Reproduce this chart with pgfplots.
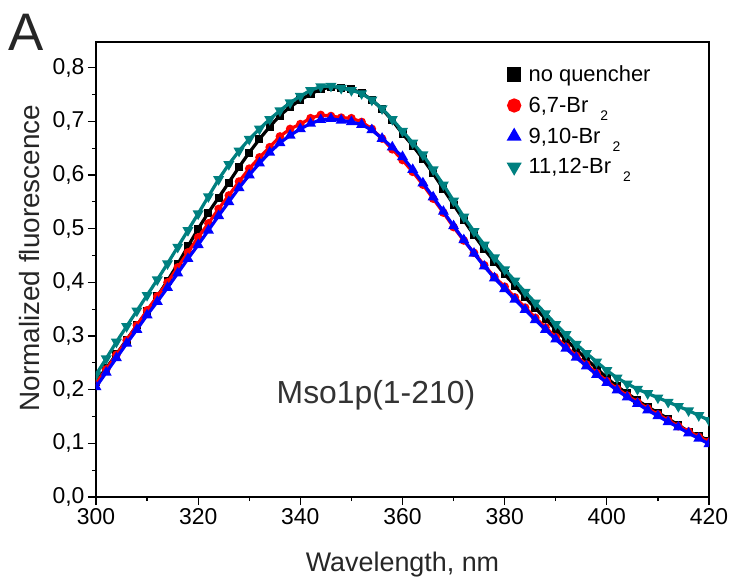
\documentclass[border=0pt]{standalone}
\usepackage{fontspec}
\setmainfont{Liberation Sans}
\usepackage{pgfplots}
\pgfplotsset{compat=1.18}
\usepackage{pgfplotstable}

% wavelength (nm), no quencher, 6,7-Br2, 9,10-Br2, 11,12-Br2
\pgfplotstableread{
wl  nq     b67    b910   b1112
300 0.215 0.212 0.205 0.228
302 0.240 0.238 0.232 0.258
304 0.266 0.265 0.259 0.289
306 0.293 0.292 0.286 0.318
308 0.320 0.320 0.312 0.347
310 0.346 0.348 0.339 0.376
312 0.374 0.374 0.364 0.405
314 0.403 0.400 0.390 0.435
316 0.434 0.428 0.417 0.466
318 0.467 0.456 0.444 0.497
320 0.500 0.484 0.470 0.528
322 0.530 0.510 0.497 0.560
324 0.558 0.537 0.524 0.592
326 0.586 0.562 0.550 0.620
328 0.615 0.588 0.576 0.645
330 0.642 0.612 0.600 0.667
332 0.667 0.633 0.622 0.686
334 0.690 0.652 0.642 0.704
336 0.711 0.672 0.660 0.720
338 0.727 0.686 0.674 0.735
340 0.740 0.695 0.686 0.747
342 0.751 0.706 0.696 0.758
344 0.760 0.712 0.703 0.765
346 0.764 0.710 0.705 0.766
348 0.762 0.707 0.702 0.762
350 0.760 0.706 0.699 0.758
352 0.753 0.699 0.694 0.752
354 0.740 0.686 0.684 0.740
356 0.723 0.668 0.668 0.724
358 0.702 0.648 0.652 0.704
360 0.677 0.628 0.634 0.682
362 0.655 0.606 0.610 0.660
364 0.630 0.582 0.585 0.638
366 0.603 0.556 0.559 0.610
368 0.574 0.530 0.532 0.582
370 0.545 0.503 0.505 0.552
372 0.516 0.478 0.479 0.522
374 0.488 0.455 0.454 0.495
376 0.462 0.432 0.430 0.470
378 0.438 0.410 0.408 0.446
380 0.415 0.392 0.388 0.424
382 0.394 0.372 0.368 0.403
384 0.372 0.353 0.349 0.382
386 0.352 0.334 0.330 0.362
388 0.332 0.316 0.312 0.342
390 0.312 0.298 0.294 0.322
392 0.293 0.280 0.277 0.303
394 0.275 0.263 0.260 0.285
396 0.257 0.247 0.244 0.268
398 0.240 0.231 0.228 0.252
400 0.222 0.216 0.213 0.236
402 0.206 0.202 0.199 0.222
404 0.193 0.189 0.186 0.211
406 0.180 0.177 0.174 0.201
408 0.168 0.165 0.162 0.193
410 0.157 0.154 0.151 0.185
412 0.146 0.143 0.140 0.177
414 0.134 0.132 0.130 0.169
416 0.122 0.122 0.119 0.161
418 0.114 0.112 0.109 0.152
420 0.105 0.103 0.099 0.143
}\spectra

\definecolor{tealc}{RGB}{0,128,128}

\newcommand{\subtwo}{\hspace{12bp}\raisebox{-8bp}{\fontsize{14}{14}\selectfont 2}}

\begin{document}
\begin{tikzpicture}
\path[use as bounding box] (-96bp,-89bp) rectangle (639bp,497bp);
\begin{axis}[scale only axis,width=613bp,height=455bp,
xmin=300,xmax=420,ymin=0,ymax=0.848,
xtick={300,320,...,420},minor x tick num=1,
ytick={0,0.1,...,0.8},minor y tick num=1,
xtick pos=left,ytick pos=left,tick align=outside,
major tick length=8bp,minor tick length=4bp,
axis line style={line width=1.3bp},
every tick/.style={black,line width=1.2bp},
tick label style={font=\fontsize{23}{27}\selectfont},
/pgf/number format/assume math mode=true,
yticklabel style={/pgf/number format/.cd,use comma,fixed,fixed zerofill,precision=1},
xticklabel style={/pgf/number format/.cd,fixed,precision=0},
xlabel={Wavelength, nm},ylabel={Normalized fluorescence},
xlabel style={at={(axis description cs:0.5,-0.149)},anchor=center,
font=\fontsize{27}{31}\selectfont,text=black!85},
ylabel style={at={(axis description cs:-0.108,0.525)},anchor=center,
font=\fontsize{28}{32}\selectfont,text=black!85},
legend style={at={(axis description cs:0.668,0.957)},anchor=north west,
draw=none,fill=none,font=\fontsize{22}{26}\selectfont,row sep=10bp,column sep=7bp},
legend cell align=left,
legend image code/.code={\draw[#1,mark size=5.5bp] plot coordinates {(0.25cm,0cm)};},
clip marker paths=true]
\addplot[black,line width=3.2bp,mark=square*,mark size=2.4bp] table[x=wl,y=nq] {\spectra};
\addlegendentry{no quencher}
\addplot[red,line width=3.2bp,mark=*,mark size=2.6bp] table[x=wl,y=b67] {\spectra};
\addlegendentry{6,7-Br\subtwo}
\addplot[blue,line width=3.2bp,mark=triangle*,mark size=3.2bp] table[x=wl,y=b910] {\spectra};
\addlegendentry{9,10-Br\subtwo}
\addplot[tealc,line width=3.2bp,mark=triangle*,mark size=3.2bp,mark options={rotate=180}] table[x=wl,y=b1112] {\spectra};
\addlegendentry{11,12-Br\subtwo}
\node[text=black!80,font=\fontsize{32}{36}\selectfont] at (axis cs:354.8,0.19) {Mso1p(1-210)};
\end{axis}
\node[text=black!85,font=\fontsize{53}{56}\selectfont] at (-70bp,465bp) {A};
\end{tikzpicture}
\end{document}
